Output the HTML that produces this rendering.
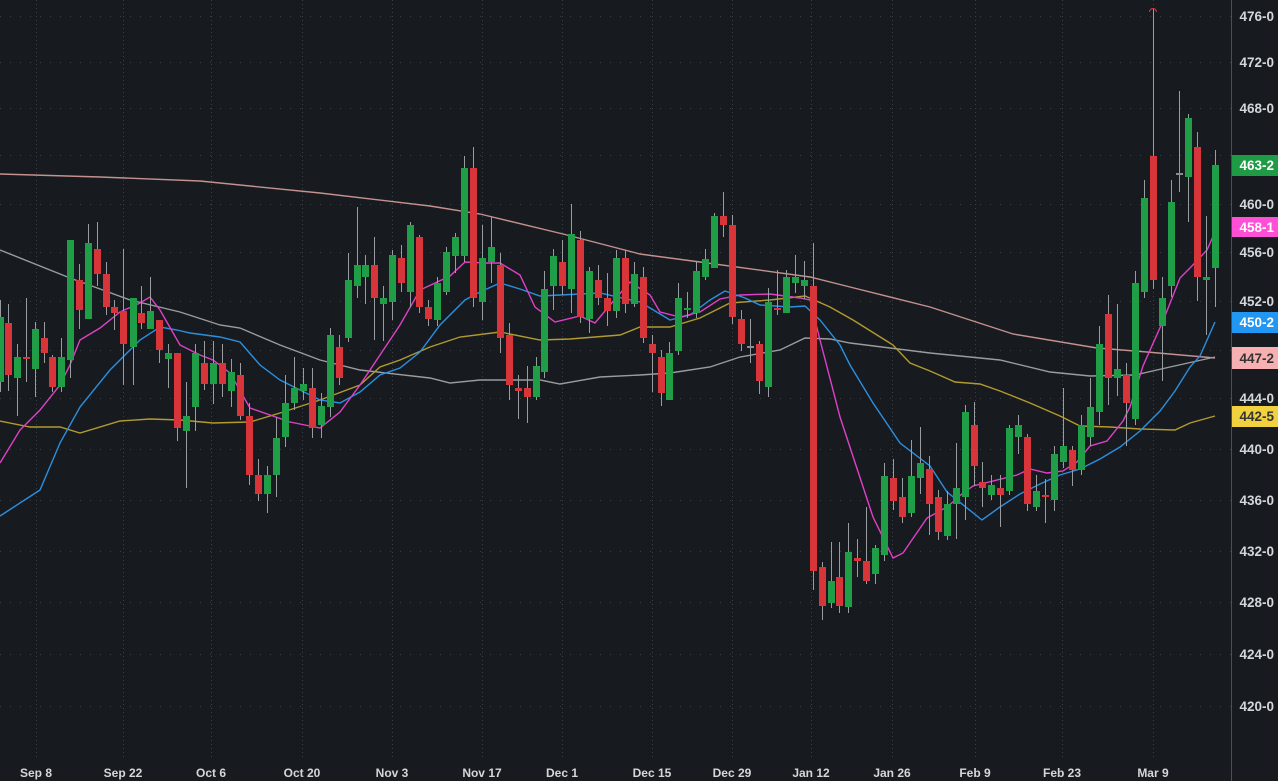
<!DOCTYPE html>
<html><head><meta charset="utf-8"><style>
html,body{margin:0;padding:0;background:#171b1f;}
svg{display:block;}
text{font-family:"Liberation Sans",sans-serif;}
</style></head><body>
<svg id="c" width="1278" height="781" viewBox="0 0 1278 781" xmlns="http://www.w3.org/2000/svg">
<rect width="1278" height="781" fill="#171b1f"/>
<g id="grid" stroke="#3b4046" stroke-width="1" stroke-dasharray="1,9"></g>
<g id="mas" fill="none" stroke-width="1.4"></g>
<g id="candles"></g>
<line x1="1231.5" y1="0" x2="1231.5" y2="781" stroke="#4a5056"/>
<g font-size="13.5" fill="#d4d7da" text-anchor="end" font-weight="bold">
<text x="1274" y="21">476-0</text>
<text x="1274" y="67">472-0</text>
<text x="1274" y="113">468-0</text>
<text x="1274" y="209">460-0</text>
<text x="1274" y="257">456-0</text>
<text x="1274" y="306">452-0</text>
<text x="1274" y="403">444-0</text>
<text x="1274" y="454">440-0</text>
<text x="1274" y="505">436-0</text>
<text x="1274" y="556">432-0</text>
<text x="1274" y="607">428-0</text>
<text x="1274" y="659">424-0</text>
<text x="1274" y="711">420-0</text>
</g>
<g font-size="13.5" text-anchor="end" font-weight="bold">
<rect x="1232" y="155" width="46" height="21" fill="#1f9a45"/><text x="1274" y="170" fill="#fff">463-2</text>
<rect x="1232" y="217" width="46" height="20" fill="#ff4fd6"/><text x="1274" y="232" fill="#fff">458-1</text>
<rect x="1232" y="312" width="46" height="21" fill="#2196f3"/><text x="1274" y="327" fill="#fff">450-2</text>
<rect x="1232" y="347" width="46" height="22" fill="#f7b0b2"/><text x="1274" y="363" fill="#333">447-2</text>
<rect x="1232" y="406" width="46" height="21" fill="#f2d13f"/><text x="1274" y="421" fill="#333">442-5</text>
</g>
<g font-size="12" fill="#d4d7da" text-anchor="middle" font-weight="bold">
<text x="36" y="777">Sep 8</text><text x="123" y="777">Sep 22</text><text x="211" y="777">Oct 6</text>
<text x="302" y="777">Oct 20</text><text x="392" y="777">Nov 3</text><text x="482" y="777">Nov 17</text>
<text x="562" y="777">Dec 1</text><text x="652" y="777">Dec 15</text><text x="732" y="777">Dec 29</text>
<text x="811" y="777">Jan 12</text><text x="892" y="777">Jan 26</text><text x="975" y="777">Feb 9</text>
<text x="1062" y="777">Feb 23</text><text x="1153" y="777">Mar 9</text>
</g>
<path d="M1149.5 12 a3.5 3.5 0 0 1 7 0" fill="none" stroke="#d9363a" stroke-width="1"/>
</svg>
<script>
var NS="http://www.w3.org/2000/svg";
function el(n,a,p){var e=document.createElementNS(NS,n);for(var k in a)e.setAttribute(k,a[k]);p.appendChild(e);return e;}
var grid=document.getElementById('grid');
[16,62,108,155,204,252,301,350,398,449,500,551,602,654,706].forEach(function(y){el('line',{x1:0,y1:y+.5,x2:1231,y2:y+.5},grid);});
[36,123,211,302,392,482,562,652,732,811,892,975,1062,1153].forEach(function(x){el('line',{x1:x+.5,y1:0,x2:x+.5,y2:760,'stroke-dasharray':'1,3'},grid);});
var mas=document.getElementById('mas');
function pl(c,pts){el('polyline',{stroke:c,points:pts},mas);}
pl('#c4918f',"0,174 100,177 200,181 320,193 430,206 480,214 563,234 640,254 700,262 810,277 850,287 930,307 1013,334 1097,348 1147,352 1215,358");
pl('#9a9c9e',"0,250 70,278 130,300 180,312 220,325 240,328 280,345 320,360 360,370 430,378 450,383 480,380 540,380 560,384 600,377 640,375 670,373 710,367 740,357 780,350 805,338 830,339 850,343 930,353 1000,360 1050,372 1090,376 1135,375 1170,367 1215,357");
pl('#b39a2e',"0,421 30,427 60,427 80,433 120,421 150,419 180,420 213,423 250,422 280,413 320,400 360,385 380,367 400,360 430,347 460,337 500,332 540,340 570,339 620,335 640,327 670,327 700,318 730,303 770,300 805,296 830,307 853,320 893,345 910,363 930,371 955,382 980,384 1000,391 1030,403 1060,416 1080,426 1110,427 1140,429 1175,430 1190,423 1215,416");
pl('#2b8fe0',"0,516 40,490 60,443 80,407 110,370 140,340 160,327 177,330 190,333 220,337 240,342 260,365 280,380 300,390 320,400 340,403 360,392 380,375 400,368 420,352 440,325 465,300 480,292 500,283 520,289 540,296 560,295 600,293 640,302 650,308 670,320 690,315 710,300 725,291 745,298 760,305 790,307 805,306 820,320 840,345 850,365 873,403 900,443 930,466 947,492 982,520 1000,507 1020,494 1040,484 1060,475 1080,469 1100,459 1120,447 1140,431 1160,411 1175,391 1190,367 1200,356 1215,322");
pl('#e040c8',"0,463 20,430 40,410 60,385 70,365 80,340 100,328 120,312 140,303 150,297 160,310 180,345 200,355 213,360 230,373 250,408 270,415 290,422 320,428 340,412 360,385 380,355 400,325 420,290 450,276 465,262 485,263 500,263 520,275 535,307 555,322 580,316 595,323 610,305 630,282 650,295 660,312 680,317 700,312 720,299 740,295 770,294 800,298 810,300 820,340 840,417 873,517 893,558 903,553 927,518 947,507 963,493 973,486 1017,475 1030,469 1047,473 1063,471 1077,462 1090,446 1107,441 1123,421 1130,407 1143,366 1163,321 1180,278 1190,268 1207,250 1215,232");
var D=[[0,317,382,300,392,'g'],[8,323,375,304,391,'r'],[17,357,378,344,416,'g'],[26,357,359,298,382,'r'],[35,329,369,322,397,'g'],[44,338,353,322,363,'r'],[52,357,387,355,392,'r'],[61,357,387,338,392,'g'],[70,240,360,240,378,'g'],[79,280,310,264,329,'r'],[88,243,319,224,319,'g'],[97,249,274,222,286,'r'],[106,274,307,262,315,'r'],[114,307,313,300,330,'r'],[123,311,344,249,385,'r'],[133,298,347,298,385,'g'],[141,313,323,286,329,'r'],[150,311,329,277,329,'g'],[159,320,350,320,363,'r'],[168,353,359,344,388,'g'],[177,353,428,353,441,'r'],[186,416,431,382,488,'g'],[195,353,407,344,431,'g'],[204,363,384,341,390,'r'],[213,363,384,341,404,'g'],[222,363,384,344,397,'r'],[231,372,391,359,407,'g'],[240,375,416,363,420,'r'],[249,416,475,403,485,'r'],[258,475,494,459,501,'r'],[267,475,494,466,513,'g'],[276,438,475,417,497,'g'],[285,403,437,375,447,'g'],[294,388,403,357,410,'g'],[303,384,391,368,400,'g'],[312,388,428,368,438,'r'],[321,406,425,393,438,'g'],[330,335,407,328,417,'g'],[339,347,378,335,385,'r'],[348,280,338,253,342,'g'],[357,265,286,207,298,'g'],[365,265,277,255,304,'g'],[374,265,298,237,340,'r'],[383,298,304,286,341,'g'],[392,255,302,250,320,'g'],[401,258,283,245,292,'r'],[410,225,292,222,307,'g'],[419,237,307,235,313,'r'],[428,307,319,300,326,'r'],[437,283,320,277,326,'g'],[446,252,292,247,295,'g'],[455,237,256,233,273,'g'],[464,168,256,156,262,'g'],[473,168,298,147,307,'r'],[482,258,302,225,320,'g'],[491,247,262,217,283,'g'],[500,265,338,253,353,'r'],[509,335,385,323,400,'r'],[518,388,391,375,419,'r'],[527,388,397,366,423,'r'],[536,366,397,357,400,'g'],[544,289,372,271,378,'g'],[553,256,286,249,310,'g'],[562,262,286,240,295,'r'],[571,234,289,204,313,'g'],[580,240,317,231,323,'r'],[589,271,319,267,333,'g'],[598,280,298,265,305,'r'],[607,298,311,273,326,'r'],[616,258,311,250,318,'g'],[625,258,304,250,313,'r'],[634,274,304,262,307,'g'],[643,277,338,267,343,'r'],[652,344,353,335,392,'r'],[661,357,393,350,406,'r'],[669,353,400,342,400,'g'],[678,298,351,283,355,'g'],[687,308,310,292,318,'g'],[696,271,313,262,318,'g'],[705,259,277,249,280,'g'],[714,216,268,213,268,'g'],[723,216,225,192,237,'r'],[732,225,317,215,324,'r'],[741,319,344,310,351,'r'],[750,346,348,319,363,'n'],[759,344,381,341,394,'r'],[768,302,387,288,397,'g'],[777,308,310,270,315,'r'],[786,277,313,270,313,'g'],[795,277,283,255,293,'g'],[804,280,286,261,299,'g'],[813,286,571,243,590,'r'],[822,567,606,562,620,'r'],[831,581,603,542,608,'g'],[839,577,606,542,613,'r'],[848,552,607,523,613,'g'],[857,558,561,539,577,'r'],[866,561,581,507,584,'r'],[875,548,574,545,584,'g'],[884,476,555,463,561,'g'],[893,478,501,459,510,'r'],[902,497,517,478,523,'r'],[911,476,513,440,517,'g'],[920,463,478,427,494,'g'],[929,469,504,456,535,'r'],[938,497,532,490,540,'r'],[947,504,536,491,540,'g'],[956,488,504,443,539,'g'],[965,412,497,405,520,'g'],[974,425,466,402,486,'r'],[982,482,488,462,507,'r'],[991,485,495,475,500,'g'],[1000,488,495,475,527,'r'],[1009,428,491,425,495,'g'],[1018,425,437,415,454,'g'],[1027,437,504,434,511,'r'],[1036,491,507,475,511,'g'],[1045,495,497,479,523,'r'],[1054,454,500,446,511,'g'],[1063,446,462,388,468,'g'],[1072,450,470,446,486,'r'],[1081,425,470,415,475,'g'],[1090,407,437,378,446,'g'],[1099,344,412,326,425,'g'],[1108,314,378,295,405,'r'],[1117,369,378,304,396,'g'],[1126,375,403,363,446,'r'],[1135,283,419,271,425,'g'],[1144,198,292,180,298,'g'],[1153,156,280,9,289,'r'],[1162,298,326,277,381,'g'],[1171,202,286,180,297,'g'],[1179,173,175,91,192,'n'],[1188,118,177,114,222,'g'],[1197,147,277,132,301,'r'],[1206,277,280,216,335,'g'],[1215,165,268,150,307,'g']];
var cg=document.getElementById('candles');
D.forEach(function(d){
 var col=d[5]=='g'?'#1f9e47':(d[5]=='r'?'#d8353a':'#8a8e92');
 el('line',{x1:d[0]+.5,y1:d[3],x2:d[0]+.5,y2:d[4],stroke:'#9a9da0','stroke-width':1},cg);
 el('rect',{x:d[0]-3,y:d[1],width:7,height:Math.max(2,d[2]-d[1]),fill:col},cg);
});
</script>
</body></html>
